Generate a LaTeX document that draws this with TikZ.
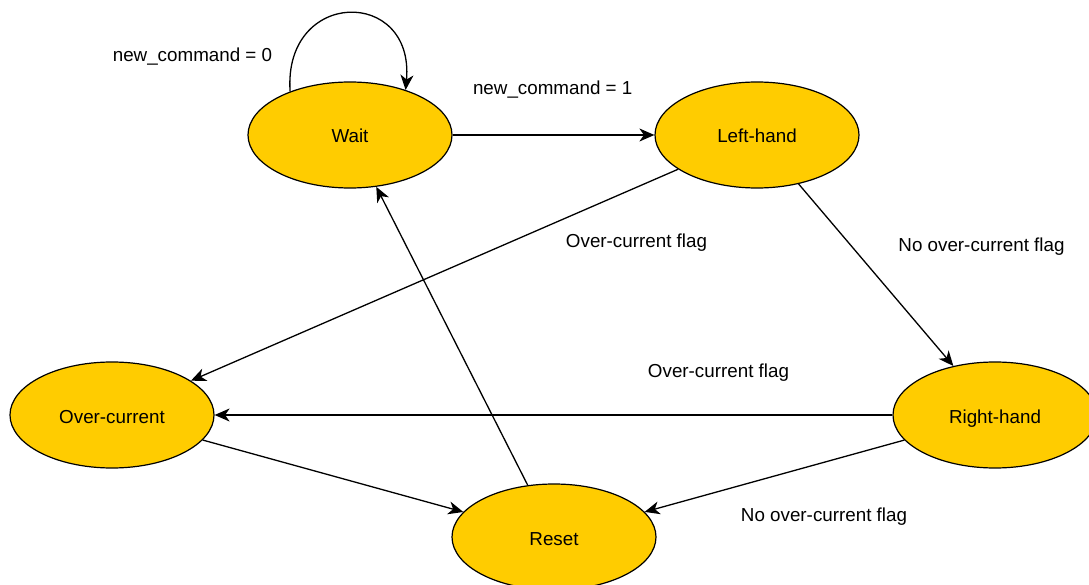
\documentclass[tikz,border=0pt]{standalone}
\usepackage{fontspec}
\setmainfont{Liberation Sans}
\usetikzlibrary{arrows.meta,shapes.geometric}
\definecolor{stategold}{HTML}{FFCC00}
\tikzset{
  state/.style={ellipse,draw=black,line width=1.2pt,fill=stategold,minimum width=204pt,minimum height=106pt,inner sep=0pt,text height=16pt,text depth=0pt,font=\fontsize{18.8}{22}\selectfont},
  lbl/.style={anchor=base,inner sep=0pt,font=\fontsize{18.8}{22}\selectfont},
  trans/.style={line width=1.3pt,-{Stealth[length=15pt,width=13pt,inset=4.5pt]}}
}
\begin{document}
\begin{tikzpicture}[x=1pt,y=-1pt]
\useasboundingbox (0,0) rectangle (1089,585);
\node[state] (wait) at (350,135) {Wait};
\node[state] (left) at (757,135) {Left-hand};
\node[state] (over) at (112,415) {Over-current};
\node[state] (right) at (995,415) {Right-hand};
\node[state] (reset) at (554,537) {Reset};

\draw[trans] (wait.144) .. controls +(-7,-103) and +(9,-103) .. (wait.39);
\draw[trans] (wait) -- (left);
\draw[trans] (left) -- (over);
\draw[trans] (left) -- (right);
\draw[trans] (right) -- (over);
\draw[trans] (right) -- (reset);
\draw[trans] (over) -- (reset);
\draw[trans] (reset) -- (wait);

\node[lbl] (l0) at (192.5,62) {new\_command = 0};
\node[lbl] (l1) at (552.7,95) {new\_command = 1};
\node[lbl] (l2) at (636.5,248) {Over-current flag};
\node[lbl] (l3) at (981.5,251.5) {No over-current flag};
\node[lbl] (l4) at (718.5,377) {Over-current flag};
\node[lbl] (l5) at (824,521.5) {No over-current flag};
\end{tikzpicture}
\end{document}
